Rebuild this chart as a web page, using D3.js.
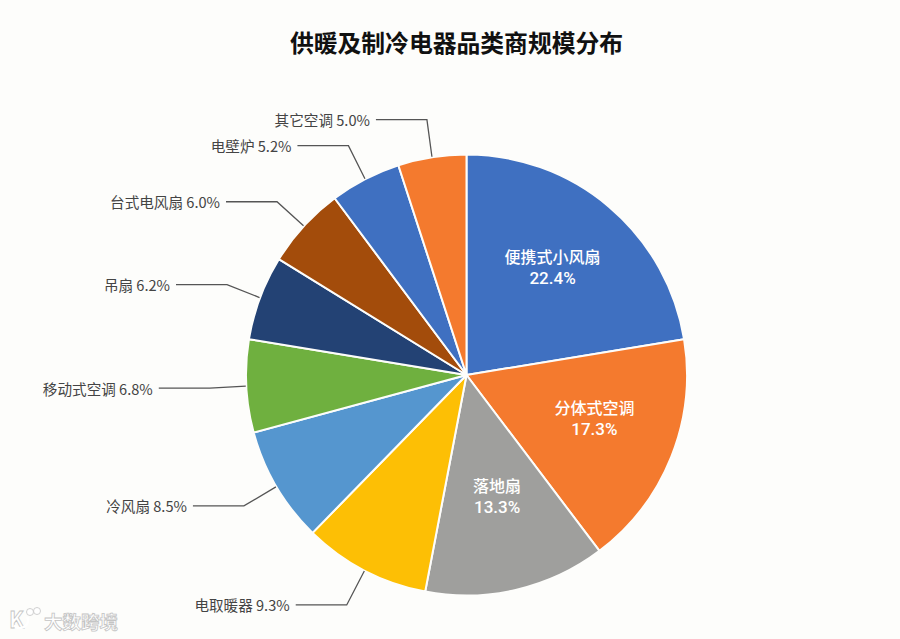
<!DOCTYPE html>
<html>
<head>
<meta charset="utf-8">
<script src="https://cdn.jsdelivr.net/npm/d3@7/dist/d3.min.js"></script>
<style>
  html, body { margin: 0; padding: 0; background: #fdfdfb; }
  svg { display: block; }
  text { font-family: "Noto Sans CJK SC", "Noto Sans", sans-serif; }
</style>
</head>
<body>
<div id="PieDiv"></div>
<script>
var categories = ["便携式小风扇", "分体式空调", "落地扇", "电取暖器", "冷风扇", "移动式空调", "吊扇", "台式电风扇", "电壁炉", "其它空调"];
var shares = [22.4, 17.3, 13.3, 9.3, 8.5, 6.8, 6.2, 6.0, 5.2, 5.0];
var sliceColors = ["#3f70c1", "#f47a2e", "#9f9f9d", "#fdbf05", "#5596cf", "#6fb03f", "#234274", "#a34c0b", "#3f70c1", "#f47a2e"];

var chartTitle = "供暖及制冷电器品类商规模分布";
var watermark = "大数跨境";

// elbow of each leader, relative to where it leaves the pie. null = label sits inside
var leaderOffsets = [null, null, null, [-17.6, 34], [-32, 19], [-36, 2], [-32.5, -13], [-26.5, -24], [-16.5, -33], [-5, -37]];
// small hand nudges for the labels inside the slices
var insideNudges = [[-1, -4], [3, -5.5], [0, -8.5]];

function getConfig(){
    let width = 900, height = 639;
    let pie = {cx: 466.5, cy: 375, r: 220.5};
    let leader = {run: 51, gap: 6, color: "#555", fontColor: "#444", fontSize: 14.6};
    return {width, height, pie, leader};
}

function showData(){
    let config = getConfig();
    let data = categories.map((c, i) => ({name: c, value: shares[i], color: sliceColors[i], offset: leaderOffsets[i], nudge: insideNudges[i]}));

    let svg = d3.select("#PieDiv").append("svg")
        .attr("width", config.width)
        .attr("height", config.height)
        .style("background-color", "#fdfdfb");

    svg.append("text")
        .attr("x", 456.5).attr("y", 52)
        .attr("text-anchor", "middle")
        .attr("font-size", 23.8)
        .attr("font-weight", 700)
        .attr("fill", "#111")
        .text(chartTitle);

    let g = svg.append("g")
        .attr("transform", `translate(${config.pie.cx},${config.pie.cy})`);

    let pie = d3.pie().sort(null).value(d => d.value);
    let arcs = pie(data);
    let arc = d3.arc().innerRadius(0).outerRadius(config.pie.r);
    let edgeArc = d3.arc().innerRadius(config.pie.r + 0.5).outerRadius(config.pie.r + 0.5);
    let insideArc = d3.arc().innerRadius(config.pie.r * 0.61).outerRadius(config.pie.r * 0.61);

    g.selectAll("path.slice")
        .data(arcs)
        .join("path")
        .attr("class", "slice")
        .attr("d", arc)
        .attr("fill", d => d.data.color)
        .attr("stroke", "#fdfdfb")
        .attr("stroke-width", 2)
        .attr("stroke-linejoin", "round");

    // labels inside the three big slices
    let inside = g.selectAll("text.inside")
        .data(arcs.filter(d => !d.data.offset))
        .join("text")
        .attr("class", "inside")
        .attr("text-anchor", "middle")
        .attr("font-size", 16)
        .attr("font-weight", 500)
        .attr("fill", "#fff")
        .attr("transform", d => {
            let c = insideArc.centroid(d);
            return `translate(${c[0] + d.data.nudge[0]},${c[1] + d.data.nudge[1]})`;
        });
    inside.append("tspan").attr("x", 0).attr("y", -5).text(d => d.data.name);
    // Roboto here: the CJK font's line box is too tall for the 21px line spacing
    inside.append("tspan").attr("x", 0).attr("y", 16)
        .style("font-family", "Roboto, sans-serif")
        .attr("font-size", 17)
        .text(d => d.data.value.toFixed(1) + "%");

    // leader lines and outside labels
    let outside = arcs.filter(d => d.data.offset);
    let line = d3.line();
    function ends(d){
        let a = edgeArc.centroid(d);
        let e = [a[0] + d.data.offset[0], a[1] + d.data.offset[1]];
        return {a, e, t: [e[0] - config.leader.run, e[1]]};
    }
    g.selectAll("path.leader")
        .data(outside)
        .join("path")
        .attr("class", "leader")
        .attr("fill", "none")
        .attr("stroke", config.leader.color)
        .attr("stroke-width", 1.3)
        .attr("d", d => { let p = ends(d); return line([p.a, p.e, p.t]); });

    g.selectAll("text.outside")
        .data(outside)
        .join("text")
        .attr("class", "outside")
        .attr("text-anchor", "end")
        .attr("dominant-baseline", "central")
        .attr("font-size", config.leader.fontSize)
        .attr("fill", config.leader.fontColor)
        .attr("x", d => ends(d).t[0] - config.leader.gap)
        .attr("y", d => ends(d).t[1])
        .text(d => d.data.name + " " + d.data.value.toFixed(1) + "%");

    // watermark, bottom left
    let mark = svg.append("g").attr("fill", "#fff").attr("stroke", "#c4c4c4").attr("stroke-width", 0.8);
    mark.append("text").attr("x", 9).attr("y", 628).attr("font-size", 22).attr("font-weight", 700).text("K");
    let curl = d3.path();
    curl.arc(20, 620, 8, -0.4, 2.4);
    mark.append("path").attr("d", curl.toString()).attr("fill", "none").attr("stroke", "#fff").attr("stroke-width", 2.5);
    mark.append("circle").attr("cx", 30).attr("cy", 612).attr("r", 3.5);
    mark.append("circle").attr("cx", 37).attr("cy", 611).attr("r", 3.5);
    mark.append("text").attr("x", 44).attr("y", 629).attr("font-size", 18.5).attr("font-weight", 700).text(watermark);
}

window.addEventListener("load", showData);
</script>
</body>
</html>
